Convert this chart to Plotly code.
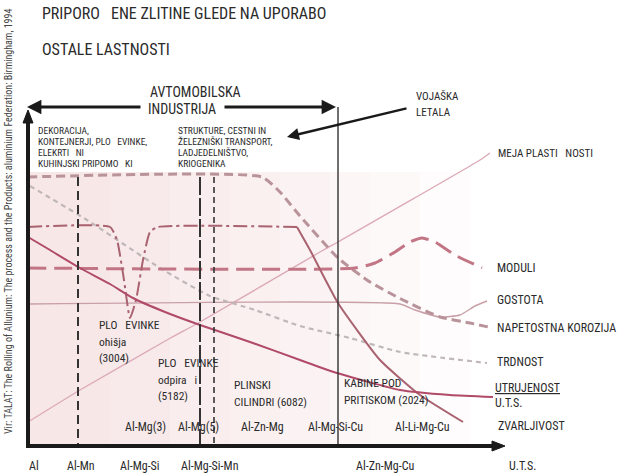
import plotly.graph_objects as go

# ---------------- data (x = alloy position, y = property level, drawing units) -------------
# stress corrosion (NAPETOSTNA KOROZIJA)
korozija_x = [28, 262, 280, 300, 338, 370, 403, 440, 470, 493]
korozija_y = [177, 177, 192, 216, 258, 282, 300, 317, 323, 328]
# strength (TRDNOST)
trdnost_x = [30, 87, 160, 210, 255, 300, 350, 400, 487]
trdnost_y = [186, 220, 268, 296, 310, 326, 338, 352, 363]
# weldability (ZVARLJIVOST) – plateau part and falling part
zvar_x = [28, 110, 117, 124, 130, 136, 143, 150, 158, 297]
zvar_y = [227, 227, 240, 280, 318, 300, 260, 232, 227, 227]
zvar2_x = [297, 310, 338, 380, 420, 463]
zvar2_y = [227, 250, 303, 360, 395, 422]
# modulus (MODULI)
moduli_x = [28, 355, 375, 395, 410, 422, 435, 455, 482]
moduli_y = [268, 268, 263, 252, 242, 238, 242, 255, 268]
# density (GOSTOTA)
gostota_x = [28, 400, 415, 440, 460, 475, 487]
gostota_y = [304, 304, 310, 317, 315, 306, 301]
# fatigue (UTRUJENOST)
utruj_x = [28, 50, 80, 110, 133, 165, 200, 250, 300, 337, 400, 450, 493]
utruj_y = [237, 250, 268, 284, 298, 312, 325, 342, 360, 373, 390, 395, 397]
# yield limit (MEJA PLASTIČNOSTI)
meja_x = [28, 80, 167, 200, 320, 338, 480, 490]
meja_y = [422, 390, 340, 322, 252, 242, 160, 153]

# alloy-class boundaries
mejne_x = [78, 200, 214, 338]
mejne_top = [177, 177, 177, 107]
os_levo, os_desno, os_dno, os_vrh = 28, 505, 446, 110

# labels
naslov = ["PRIPORO   ENE ZLITINE GLEDE NA UPORABO", "OSTALE LASTNOSTI"]
vir = "Vir: TALAT: The Rolling of Allunium: The process and the Products: aluminium Federation: Birmingham, 1994"
uporaba_levo = ["DEKORACIJA,", "KONTEJNERJI, PLO   EVINKE,", "ELEKRTI   NI", "KUHINJSKI PRIPOMO   KI"]
uporaba_sredina = ["STRUKTURE, CESTNI IN", "ŽELEZNIŠKI TRANSPORT,", "LADJEDELNIŠTVO,", "KRIOGENIKA"]
lastnosti = ["MEJA PLASTI   NOSTI", "MODULI", "GOSTOTA", "NAPETOSTNA KOROZIJA", "TRDNOST"]
lastnosti_y = [153, 268, 300, 328, 362]
zlitine_spodaj = ["Al", "Al-Mn", "Al-Mg-Si", "Al-Mg-Si-Mn", "Al-Zn-Mg-Cu", "U.T.S."]
zlitine_spodaj_x = [34, 81, 140, 210, 385, 522]
zlitine_notri = ["Al-Mg(3)", "Al-Mg(5)", "Al-Zn-Mg", "Al-Mg-Si-Cu", "Al-Li-Mg-Cu"]
zlitine_notri_x = [145, 198, 262, 335, 422]
izdelki = [["PLO   EVINKE", "ohišja", "(3004)"], ["PLO   EVINKE", "odpira   i", "(5182)"],
           ["PLINSKI", "CILINDRI (6082)"], ["KABINE POD", "PRITISKOM (2024)"]]
izdelki_x = [97, 156, 232, 342]
izdelki_y0 = [325, 363, 385, 383]

FONT = "Liberation Sans Narrow, Arial Narrow, Roboto Condensed, DejaVu Sans Condensed, Liberation Sans, sans-serif"
TXT = "#2a2a2a"
INK = "#1a1a1a"

fig = go.Figure()

# pink background wash
shapes = []
for x1 in [470, 420, 370, 330, 280, 230, 170, 110]:
    shapes.append(dict(type="rect", xref="x", yref="y", x0=28, x1=x1, y0=172, y1=os_dno,
                       fillcolor="rgba(228,150,165,0.033)", line_width=0, layer="below"))

def line(x, y, color, width, dash="solid", name=""):
    fig.add_trace(go.Scatter(x=x, y=y, mode="lines", name=name, hoverinfo="skip",
                             line=dict(color=color, width=width, dash=dash, shape="spline", smoothing=0.5)))

line(meja_x, meja_y, "#dcaab7", 1.4, name="MEJA")
line(gostota_x, gostota_y, "#c9a0a8", 1.4, name="GOSTOTA")
line(trdnost_x, trdnost_y, "#c0b7b9", 2.2, "5px,4px", name="TRDNOST")
line(korozija_x, korozija_y, "#b9939a", 3, "9px,5px", name="KOROZIJA")
line(moduli_x, moduli_y, "#c27584", 3, "18px,8px", name="MODULI")
line(zvar_x, zvar_y, "#a9626f", 2, "14px,4px,3px,4px", name="ZVARLJIVOST")
line(zvar2_x, zvar2_y, "#a9626f", 2, name="ZVARLJIVOST2")
line(utruj_x, utruj_y, "#b04a68", 2, name="UTRUJENOST")

# boundaries between alloy classes
dashes = ["9px,5px", "18px,3px", "6px,4px", "solid"]
widths = [2, 2, 1.6, 1.4]
for xv, yt, d, w in zip(mejne_x, mejne_top, dashes, widths):
    fig.add_trace(go.Scatter(x=[xv, xv], y=[yt, os_dno], mode="lines", hoverinfo="skip",
                             line=dict(color="#333333", width=w, dash=d)))

# axes: filled bars + triangular heads
shapes.append(dict(type="rect", xref="x", yref="y", x0=os_levo - 2, x1=os_desno - 10, y0=os_dno - 2, y1=os_dno + 2,
                   fillcolor=INK, line_width=0, layer="above"))
shapes.append(dict(type="rect", xref="x", yref="y", x0=os_levo - 2, x1=os_levo + 2, y0=os_vrh + 10, y1=os_dno + 2,
                   fillcolor=INK, line_width=0, layer="above"))
shapes.append(dict(type="path", xref="x", yref="y", layer="above", fillcolor=INK, line=dict(color=INK, width=1),
                   path=f"M{os_desno},{os_dno} L{os_desno - 13},{os_dno - 5} L{os_desno - 13},{os_dno + 5} Z"))
shapes.append(dict(type="path", xref="x", yref="y", layer="above", fillcolor=INK, line=dict(color=INK, width=1),
                   path=f"M{os_levo},{os_vrh} L{os_levo - 5},{os_vrh + 13} L{os_levo + 5},{os_vrh + 13} Z"))

ann = []
def arrow(x, y, ax, ay, width, size=1.0):
    ann.append(dict(x=x, y=y, ax=ax, ay=ay, xref="x", yref="y", axref="x", ayref="y", text="",
                    showarrow=True, arrowhead=2, arrowsize=size, arrowwidth=width, arrowcolor=INK))

# automotive industry arrow
arrow(27, 107, 142, 107, 3.2, 0.9)
arrow(336, 107, 223, 107, 3.2, 0.9)
# military aircraft arrow
arrow(287, 137, 408, 108, 2.4, 1.0)

def txt(s, x, y, size, anchor="left", color=TXT, angle=0):
    ann.append(dict(text=s, x=x, y=y, xref="x", yref="y", showarrow=False, xanchor=anchor,
                    yanchor="middle", textangle=angle, font=dict(family=FONT, size=size, color=color)))

txt(naslov[0], 40, 13, 16)
txt(naslov[1], 40, 49, 16)
txt(vir, 8, 222, 10, "center", "#444444", -90)
txt("AVTOMOBILSKA", 195, 92, 14, "center")
txt("INDUSTRIJA", 182, 109, 14, "center")
txt("VOJAŠKA", 414, 96, 11)
txt("LETALA", 414, 112, 11)
for i, s in enumerate(uporaba_levo):
    txt(s, 36, 130 + i * 11.3, 9.5)
for i, s in enumerate(uporaba_sredina):
    txt(s, 176, 130 + i * 11.3, 9.5)
txt(lastnosti[0], 496, lastnosti_y[0], 11)
for s, yv in zip(lastnosti[1:], lastnosti_y[1:]):
    txt(s, 495, yv, 12)
txt("<span style='text-decoration:underline'>UTRUJENOST</span>", 493, 388, 12)
txt("U.T.S.", 493, 403, 12)
txt("ZVARLJIVOST", 496, 426, 12)
for s, xv in zip(zlitine_spodaj, zlitine_spodaj_x):
    txt(s, xv, 466, 12, "center")
for s, xv in zip(zlitine_notri, zlitine_notri_x):
    txt(s, xv, 427, 12, "center")
for lines_, xv, y0 in zip(izdelki, izdelki_x, izdelki_y0):
    for j, s in enumerate(lines_):
        txt(s, xv, y0 + j * 16.5, 11.5)

fig.update_layout(
    width=625, height=475, margin=dict(l=0, r=0, t=0, b=0),
    paper_bgcolor="white", plot_bgcolor="white", showlegend=False,
    xaxis=dict(range=[0, 625], visible=False, fixedrange=True),
    yaxis=dict(range=[475, 0], visible=False, fixedrange=True),
    shapes=shapes, annotations=ann,
)
# remove the default page margin so the figure fills the 625x475 window exactly
fig.write_html("out.html", config={"displayModeBar": False},
               post_script="document.body.style.margin='0px';document.body.style.overflow='hidden';")
